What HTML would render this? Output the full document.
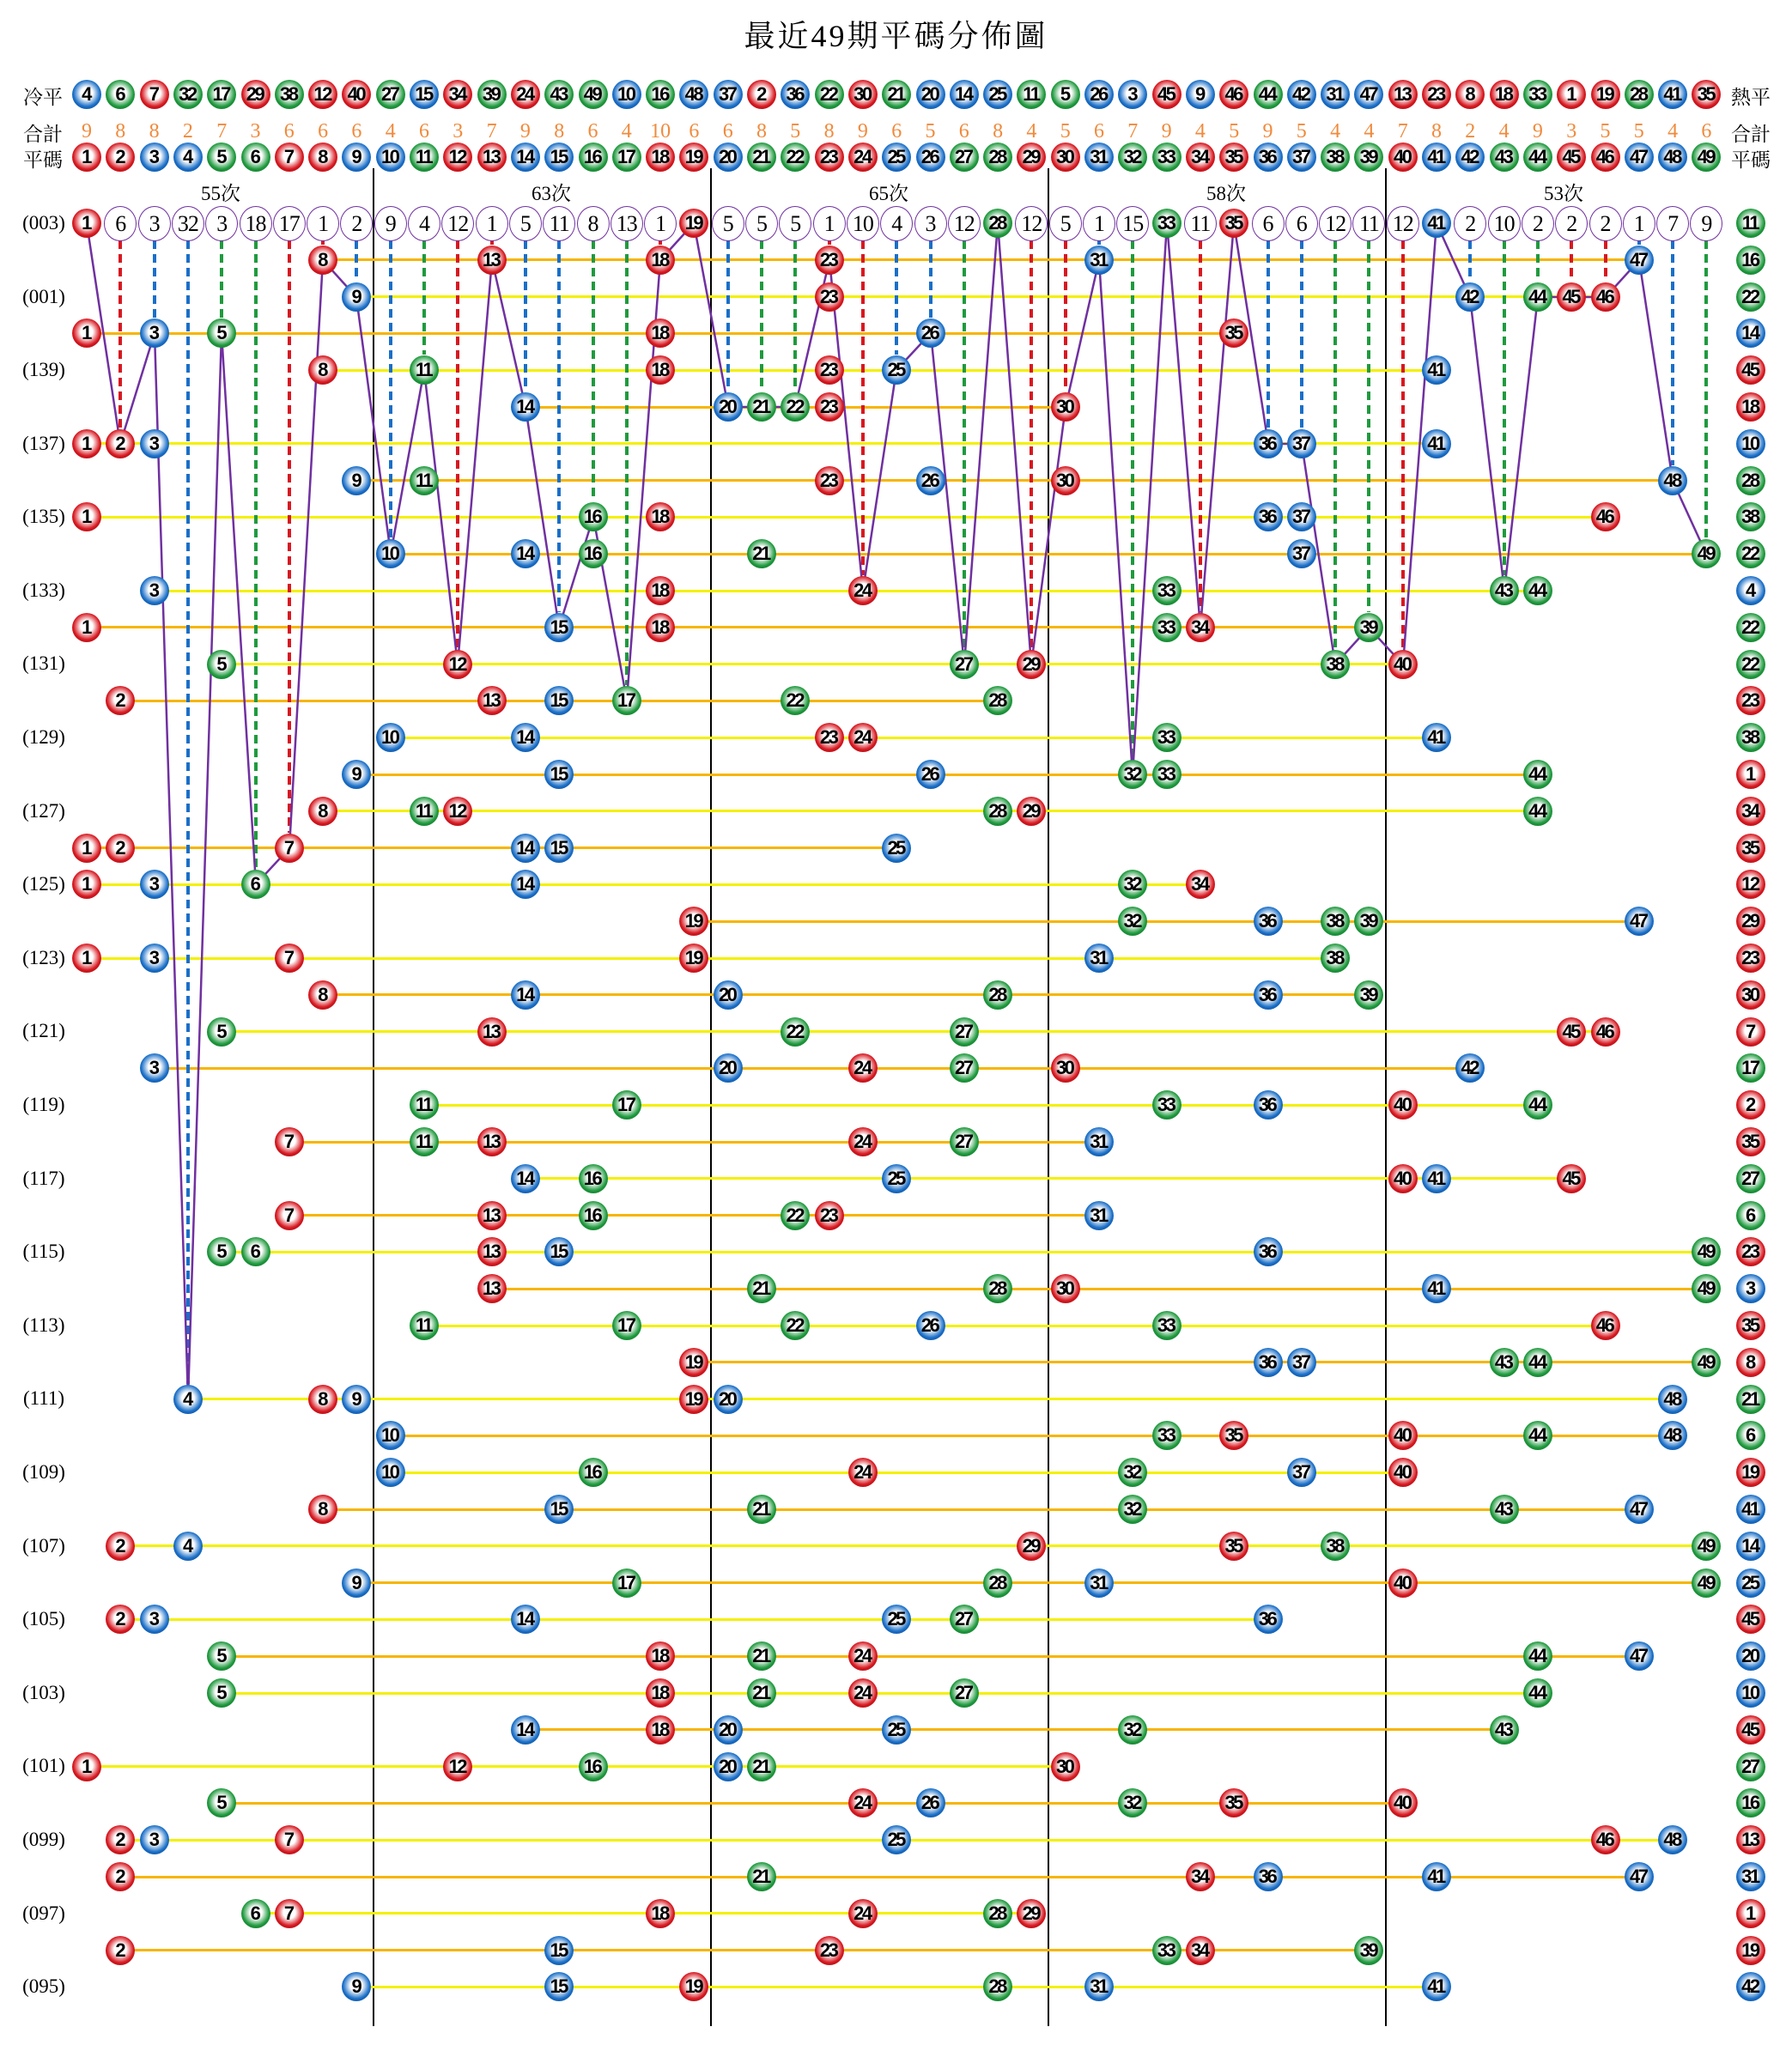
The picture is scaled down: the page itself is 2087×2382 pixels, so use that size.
<!DOCTYPE html>
<html><head><meta charset="utf-8"><style>
*{margin:0;padding:0}
html,body{width:2087px;height:2382px;background:#fff;overflow:hidden;position:relative}
.p{position:absolute;left:0;top:0;width:2087px;height:2382px}
b,u,s,em{position:absolute;left:calc(101px + (var(--c) - 1)*39.3px);top:calc(260px + var(--r)*42.8px);text-decoration:none;font-style:normal}
b{width:34px;height:34px;margin:-17px 0 0 -17px;border-radius:50%;background:radial-gradient(circle at 50% 46%,#fff 0,#fff 28%,var(--k) 62%,var(--d) 100%);font:bold 22px/34px "Liberation Sans",sans-serif;color:#000;text-align:center;letter-spacing:-2.5px;text-indent:-2px}
u{width:36px;height:39px;margin:-20px 0 0 -19px;border:1.8px solid #7030a0;border-radius:50%;background:#fff;font:26px/39px "Liberation Serif",serif;text-align:center;letter-spacing:-1px;color:#000}
s{width:30px;margin-left:-15px;font:24px/30px "Liberation Serif",serif;color:#f08a3c;text-align:center;margin-top:-15px}
em{width:4px;margin-left:-2px;top:280px;height:calc(var(--g)*42.8px - 38px);background:repeating-linear-gradient(to bottom,var(--k) 0 10px,transparent 10px 16px)}
i{position:absolute;height:3px;margin-top:-1.5px;left:calc(101px + (var(--a) - 1)*39.3px);width:calc((var(--b) - var(--a))*39.3px);top:calc(260px + var(--r)*42.8px)}
.o i{background:#f7b500}.y i{background:#f4f000}
.lab{position:absolute;font:23px "Liberation Serif","Noto Serif CJK SC",serif;color:#000;width:90px;text-align:center;margin-top:-15px}
.sep{position:absolute;top:196px;height:2164px;width:2px;background:#000}
.n1{--c:1}.n2{--c:2}.n3{--c:3}.n4{--c:4}.n5{--c:5}.n6{--c:6}.n7{--c:7}.n8{--c:8}.n9{--c:9}.n10{--c:10}.n11{--c:11}.n12{--c:12}.n13{--c:13}.n14{--c:14}.n15{--c:15}.n16{--c:16}.n17{--c:17}.n18{--c:18}.n19{--c:19}.n20{--c:20}.n21{--c:21}.n22{--c:22}.n23{--c:23}.n24{--c:24}.n25{--c:25}.n26{--c:26}.n27{--c:27}.n28{--c:28}.n29{--c:29}.n30{--c:30}.n31{--c:31}.n32{--c:32}.n33{--c:33}.n34{--c:34}.n35{--c:35}.n36{--c:36}.n37{--c:37}.n38{--c:38}.n39{--c:39}.n40{--c:40}.n41{--c:41}.n42{--c:42}.n43{--c:43}.n44{--c:44}.n45{--c:45}.n46{--c:46}.n47{--c:47}.n48{--c:48}.n49{--c:49}
.n1,.n2,.n7,.n8,.n12,.n13,.n18,.n19,.n23,.n24,.n29,.n30,.n34,.n35,.n40,.n45,.n46{--k:#d81820;--d:#7a0c10}
.n3,.n4,.n9,.n10,.n14,.n15,.n20,.n25,.n26,.n31,.n36,.n37,.n41,.n42,.n47,.n48{--k:#1a6fc8;--d:#0c3670}
.n5,.n6,.n11,.n16,.n17,.n21,.n22,.n27,.n28,.n32,.n33,.n38,.n39,.n43,.n44,.n49{--k:#1f9a3e;--d:#0c561c}
</style></head><body>
<div style="position:absolute;left:0;width:2087px;top:14px;text-align:center;font:36px 'Liberation Serif','Noto Serif CJK SC',serif;letter-spacing:3px">最近49期平碼分佈圖</div>

<div class="lab" style="left:5px;top:110px">冷平</div>
<div class="lab" style="left:5px;top:153px">合計</div>
<div class="lab" style="left:5px;top:183px">平碼</div>
<div class="lab" style="left:1994px;top:110px">熱平</div>
<div class="lab" style="left:1994px;top:153px">合計</div>
<div class="lab" style="left:1994px;top:183px">平碼</div>
<div class="lab" style="left:212px;top:222px">55次</div>
<div class="lab" style="left:597px;top:222px">63次</div>
<div class="lab" style="left:990px;top:222px">65次</div>
<div class="lab" style="left:1383px;top:222px">58次</div>
<div class="lab" style="left:1776px;top:222px">53次</div>

<div class="sep" style="left:434px"></div><div class="sep" style="left:827px"></div><div class="sep" style="left:1220px"></div><div class="sep" style="left:1613px"></div>

<div class="lab" style="left:6px;top:262px">(003)</div><div class="lab" style="left:6px;top:348px">(001)</div><div class="lab" style="left:6px;top:433px">(139)</div><div class="lab" style="left:6px;top:519px">(137)</div><div class="lab" style="left:6px;top:604px">(135)</div><div class="lab" style="left:6px;top:690px">(133)</div><div class="lab" style="left:6px;top:775px">(131)</div><div class="lab" style="left:6px;top:861px">(129)</div><div class="lab" style="left:6px;top:947px">(127)</div><div class="lab" style="left:6px;top:1032px">(125)</div><div class="lab" style="left:6px;top:1118px">(123)</div><div class="lab" style="left:6px;top:1203px">(121)</div><div class="lab" style="left:6px;top:1289px">(119)</div><div class="lab" style="left:6px;top:1375px">(117)</div><div class="lab" style="left:6px;top:1460px">(115)</div><div class="lab" style="left:6px;top:1546px">(113)</div><div class="lab" style="left:6px;top:1631px">(111)</div><div class="lab" style="left:6px;top:1717px">(109)</div><div class="lab" style="left:6px;top:1803px">(107)</div><div class="lab" style="left:6px;top:1888px">(105)</div><div class="lab" style="left:6px;top:1974px">(103)</div><div class="lab" style="left:6px;top:2059px">(101)</div><div class="lab" style="left:6px;top:2145px">(099)</div><div class="lab" style="left:6px;top:2231px">(097)</div><div class="lab" style="left:6px;top:2316px">(095)</div>

<div class="o">
<i style="--r:1;--a:8;--b:47"></i><i style="--r:3;--a:1;--b:35"></i><i style="--r:5;--a:14;--b:30"></i><i style="--r:7;--a:9;--b:48"></i><i style="--r:9;--a:10;--b:49"></i><i style="--r:11;--a:1;--b:39"></i><i style="--r:13;--a:2;--b:28"></i><i style="--r:15;--a:9;--b:44"></i><i style="--r:17;--a:1;--b:25"></i><i style="--r:19;--a:19;--b:47"></i><i style="--r:21;--a:8;--b:39"></i><i style="--r:23;--a:3;--b:42"></i><i style="--r:25;--a:7;--b:31"></i><i style="--r:27;--a:7;--b:31"></i><i style="--r:29;--a:13;--b:49"></i><i style="--r:31;--a:19;--b:49"></i><i style="--r:33;--a:10;--b:48"></i><i style="--r:35;--a:8;--b:47"></i><i style="--r:37;--a:9;--b:49"></i><i style="--r:39;--a:5;--b:47"></i><i style="--r:41;--a:14;--b:43"></i><i style="--r:43;--a:5;--b:40"></i><i style="--r:45;--a:2;--b:47"></i><i style="--r:47;--a:2;--b:39"></i>
</div>
<div class="y">
<i style="--r:2;--a:9;--b:46"></i><i style="--r:4;--a:8;--b:41"></i><i style="--r:6;--a:1;--b:41"></i><i style="--r:8;--a:1;--b:46"></i><i style="--r:10;--a:3;--b:44"></i><i style="--r:12;--a:5;--b:40"></i><i style="--r:14;--a:10;--b:41"></i><i style="--r:16;--a:8;--b:44"></i><i style="--r:18;--a:1;--b:34"></i><i style="--r:20;--a:1;--b:38"></i><i style="--r:22;--a:5;--b:46"></i><i style="--r:24;--a:11;--b:44"></i><i style="--r:26;--a:14;--b:45"></i><i style="--r:28;--a:5;--b:49"></i><i style="--r:30;--a:11;--b:46"></i><i style="--r:32;--a:4;--b:48"></i><i style="--r:34;--a:10;--b:40"></i><i style="--r:36;--a:2;--b:49"></i><i style="--r:38;--a:2;--b:36"></i><i style="--r:40;--a:5;--b:44"></i><i style="--r:42;--a:1;--b:30"></i><i style="--r:44;--a:2;--b:48"></i><i style="--r:46;--a:6;--b:29"></i><i style="--r:48;--a:9;--b:41"></i>
</div>

<div>
<em class="n2" style="--g:6"></em><em class="n3" style="--g:3"></em><em class="n4" style="--g:32"></em><em class="n5" style="--g:3"></em><em class="n6" style="--g:18"></em><em class="n7" style="--g:17"></em><em class="n8" style="--g:1"></em><em class="n9" style="--g:2"></em><em class="n10" style="--g:9"></em><em class="n11" style="--g:4"></em><em class="n12" style="--g:12"></em><em class="n13" style="--g:1"></em><em class="n14" style="--g:5"></em><em class="n15" style="--g:11"></em><em class="n16" style="--g:8"></em><em class="n17" style="--g:13"></em><em class="n18" style="--g:1"></em><em class="n20" style="--g:5"></em><em class="n21" style="--g:5"></em><em class="n22" style="--g:5"></em><em class="n23" style="--g:1"></em><em class="n24" style="--g:10"></em><em class="n25" style="--g:4"></em><em class="n26" style="--g:3"></em><em class="n27" style="--g:12"></em><em class="n29" style="--g:12"></em><em class="n30" style="--g:5"></em><em class="n31" style="--g:1"></em><em class="n32" style="--g:15"></em><em class="n34" style="--g:11"></em><em class="n36" style="--g:6"></em><em class="n37" style="--g:6"></em><em class="n38" style="--g:12"></em><em class="n39" style="--g:11"></em><em class="n40" style="--g:12"></em><em class="n42" style="--g:2"></em><em class="n43" style="--g:10"></em><em class="n44" style="--g:2"></em><em class="n45" style="--g:2"></em><em class="n46" style="--g:2"></em><em class="n47" style="--g:1"></em><em class="n48" style="--g:7"></em><em class="n49" style="--g:9"></em>
</div>

<svg class="p" width="2087" height="2382"><polyline fill="none" stroke="#7030a0" stroke-width="2.5" points="101,260 140,517 180,388 219,1630 258,388 298,1030 337,988 376,303 415,346 455,645 494,431 533,774 573,303 612,474 651,731 691,602 730,816 769,303 808,260 848,474 887,474 926,474 966,303 1005,688 1044,431 1084,388 1123,774 1162,260 1201,774 1241,474 1280,303 1319,902 1359,260 1398,731 1437,260 1477,517 1516,517 1555,774 1594,731 1634,774 1673,260 1712,346 1752,688 1791,346 1830,346 1870,346 1909,303 1948,560 1987,645"/></svg>

<div style="--r:-3.505">
<b class="n4" style="--c:1">4</b><b class="n6" style="--c:2">6</b><b class="n7" style="--c:3">7</b><b class="n32" style="--c:4">32</b><b class="n17" style="--c:5">17</b><b class="n29" style="--c:6">29</b><b class="n38" style="--c:7">38</b><b class="n12" style="--c:8">12</b><b class="n40" style="--c:9">40</b><b class="n27" style="--c:10">27</b><b class="n15" style="--c:11">15</b><b class="n34" style="--c:12">34</b><b class="n39" style="--c:13">39</b><b class="n24" style="--c:14">24</b><b class="n43" style="--c:15">43</b><b class="n49" style="--c:16">49</b><b class="n10" style="--c:17">10</b><b class="n16" style="--c:18">16</b><b class="n48" style="--c:19">48</b><b class="n37" style="--c:20">37</b><b class="n2" style="--c:21">2</b><b class="n36" style="--c:22">36</b><b class="n22" style="--c:23">22</b><b class="n30" style="--c:24">30</b><b class="n21" style="--c:25">21</b><b class="n20" style="--c:26">20</b><b class="n14" style="--c:27">14</b><b class="n25" style="--c:28">25</b><b class="n11" style="--c:29">11</b><b class="n5" style="--c:30">5</b><b class="n26" style="--c:31">26</b><b class="n3" style="--c:32">3</b><b class="n45" style="--c:33">45</b><b class="n9" style="--c:34">9</b><b class="n46" style="--c:35">46</b><b class="n44" style="--c:36">44</b><b class="n42" style="--c:37">42</b><b class="n31" style="--c:38">31</b><b class="n47" style="--c:39">47</b><b class="n13" style="--c:40">13</b><b class="n23" style="--c:41">23</b><b class="n8" style="--c:42">8</b><b class="n18" style="--c:43">18</b><b class="n33" style="--c:44">33</b><b class="n1" style="--c:45">1</b><b class="n19" style="--c:46">19</b><b class="n28" style="--c:47">28</b><b class="n41" style="--c:48">41</b><b class="n35" style="--c:49">35</b>
</div>
<div style="--r:-2.5">
<s style="--c:1">9</s><s style="--c:2">8</s><s style="--c:3">8</s><s style="--c:4">2</s><s style="--c:5">7</s><s style="--c:6">3</s><s style="--c:7">6</s><s style="--c:8">6</s><s style="--c:9">6</s><s style="--c:10">4</s><s style="--c:11">6</s><s style="--c:12">3</s><s style="--c:13">7</s><s style="--c:14">9</s><s style="--c:15">8</s><s style="--c:16">6</s><s style="--c:17">4</s><s style="--c:18">10</s><s style="--c:19">6</s><s style="--c:20">6</s><s style="--c:21">8</s><s style="--c:22">5</s><s style="--c:23">8</s><s style="--c:24">9</s><s style="--c:25">6</s><s style="--c:26">5</s><s style="--c:27">6</s><s style="--c:28">8</s><s style="--c:29">4</s><s style="--c:30">5</s><s style="--c:31">6</s><s style="--c:32">7</s><s style="--c:33">9</s><s style="--c:34">4</s><s style="--c:35">5</s><s style="--c:36">9</s><s style="--c:37">5</s><s style="--c:38">4</s><s style="--c:39">4</s><s style="--c:40">7</s><s style="--c:41">8</s><s style="--c:42">2</s><s style="--c:43">4</s><s style="--c:44">9</s><s style="--c:45">3</s><s style="--c:46">5</s><s style="--c:47">5</s><s style="--c:48">4</s><s style="--c:49">6</s>
</div>
<div style="--r:-1.8">
<b class="n1">1</b><b class="n2">2</b><b class="n3">3</b><b class="n4">4</b><b class="n5">5</b><b class="n6">6</b><b class="n7">7</b><b class="n8">8</b><b class="n9">9</b><b class="n10">10</b><b class="n11">11</b><b class="n12">12</b><b class="n13">13</b><b class="n14">14</b><b class="n15">15</b><b class="n16">16</b><b class="n17">17</b><b class="n18">18</b><b class="n19">19</b><b class="n20">20</b><b class="n21">21</b><b class="n22">22</b><b class="n23">23</b><b class="n24">24</b><b class="n25">25</b><b class="n26">26</b><b class="n27">27</b><b class="n28">28</b><b class="n29">29</b><b class="n30">30</b><b class="n31">31</b><b class="n32">32</b><b class="n33">33</b><b class="n34">34</b><b class="n35">35</b><b class="n36">36</b><b class="n37">37</b><b class="n38">38</b><b class="n39">39</b><b class="n40">40</b><b class="n41">41</b><b class="n42">42</b><b class="n43">43</b><b class="n44">44</b><b class="n45">45</b><b class="n46">46</b><b class="n47">47</b><b class="n48">48</b><b class="n49">49</b>
</div>

<div style="--r:0">
<b class="n1">1</b><u style="--c:2">6</u><u style="--c:3">3</u><u style="--c:4">32</u><u style="--c:5">3</u><u style="--c:6">18</u><u style="--c:7">17</u><u style="--c:8">1</u><u style="--c:9">2</u><u style="--c:10">9</u><u style="--c:11">4</u><u style="--c:12">12</u><u style="--c:13">1</u><u style="--c:14">5</u><u style="--c:15">11</u><u style="--c:16">8</u><u style="--c:17">13</u><u style="--c:18">1</u><b class="n19">19</b><u style="--c:20">5</u><u style="--c:21">5</u><u style="--c:22">5</u><u style="--c:23">1</u><u style="--c:24">10</u><u style="--c:25">4</u><u style="--c:26">3</u><u style="--c:27">12</u><b class="n28">28</b><u style="--c:29">12</u><u style="--c:30">5</u><u style="--c:31">1</u><u style="--c:32">15</u><b class="n33">33</b><u style="--c:34">11</u><b class="n35">35</b><u style="--c:36">6</u><u style="--c:37">6</u><u style="--c:38">12</u><u style="--c:39">11</u><u style="--c:40">12</u><b class="n41">41</b><u style="--c:42">2</u><u style="--c:43">10</u><u style="--c:44">2</u><u style="--c:45">2</u><u style="--c:46">2</u><u style="--c:47">1</u><u style="--c:48">7</u><u style="--c:49">9</u><b class="n11" style="--c:50.31">11</b>
</div>
<div style="--r:1"><b class="n8">8</b><b class="n13">13</b><b class="n18">18</b><b class="n23">23</b><b class="n31">31</b><b class="n47">47</b><b class="n16" style="--c:50.31">16</b></div>
<div style="--r:2"><b class="n9">9</b><b class="n23">23</b><b class="n42">42</b><b class="n44">44</b><b class="n45">45</b><b class="n46">46</b><b class="n22" style="--c:50.31">22</b></div>
<div style="--r:3"><b class="n1">1</b><b class="n3">3</b><b class="n5">5</b><b class="n18">18</b><b class="n26">26</b><b class="n35">35</b><b class="n14" style="--c:50.31">14</b></div>
<div style="--r:4"><b class="n8">8</b><b class="n11">11</b><b class="n18">18</b><b class="n23">23</b><b class="n25">25</b><b class="n41">41</b><b class="n45" style="--c:50.31">45</b></div>
<div style="--r:5"><b class="n14">14</b><b class="n20">20</b><b class="n21">21</b><b class="n22">22</b><b class="n23">23</b><b class="n30">30</b><b class="n18" style="--c:50.31">18</b></div>
<div style="--r:6"><b class="n1">1</b><b class="n2">2</b><b class="n3">3</b><b class="n36">36</b><b class="n37">37</b><b class="n41">41</b><b class="n10" style="--c:50.31">10</b></div>
<div style="--r:7"><b class="n9">9</b><b class="n11">11</b><b class="n23">23</b><b class="n26">26</b><b class="n30">30</b><b class="n48">48</b><b class="n28" style="--c:50.31">28</b></div>
<div style="--r:8"><b class="n1">1</b><b class="n16">16</b><b class="n18">18</b><b class="n36">36</b><b class="n37">37</b><b class="n46">46</b><b class="n38" style="--c:50.31">38</b></div>
<div style="--r:9"><b class="n10">10</b><b class="n14">14</b><b class="n16">16</b><b class="n21">21</b><b class="n37">37</b><b class="n49">49</b><b class="n22" style="--c:50.31">22</b></div>
<div style="--r:10"><b class="n3">3</b><b class="n18">18</b><b class="n24">24</b><b class="n33">33</b><b class="n43">43</b><b class="n44">44</b><b class="n4" style="--c:50.31">4</b></div>
<div style="--r:11"><b class="n1">1</b><b class="n15">15</b><b class="n18">18</b><b class="n33">33</b><b class="n34">34</b><b class="n39">39</b><b class="n22" style="--c:50.31">22</b></div>
<div style="--r:12"><b class="n5">5</b><b class="n12">12</b><b class="n27">27</b><b class="n29">29</b><b class="n38">38</b><b class="n40">40</b><b class="n22" style="--c:50.31">22</b></div>
<div style="--r:13"><b class="n2">2</b><b class="n13">13</b><b class="n15">15</b><b class="n17">17</b><b class="n22">22</b><b class="n28">28</b><b class="n23" style="--c:50.31">23</b></div>
<div style="--r:14"><b class="n10">10</b><b class="n14">14</b><b class="n23">23</b><b class="n24">24</b><b class="n33">33</b><b class="n41">41</b><b class="n38" style="--c:50.31">38</b></div>
<div style="--r:15"><b class="n9">9</b><b class="n15">15</b><b class="n26">26</b><b class="n32">32</b><b class="n33">33</b><b class="n44">44</b><b class="n1" style="--c:50.31">1</b></div>
<div style="--r:16"><b class="n8">8</b><b class="n11">11</b><b class="n12">12</b><b class="n28">28</b><b class="n29">29</b><b class="n44">44</b><b class="n34" style="--c:50.31">34</b></div>
<div style="--r:17"><b class="n1">1</b><b class="n2">2</b><b class="n7">7</b><b class="n14">14</b><b class="n15">15</b><b class="n25">25</b><b class="n35" style="--c:50.31">35</b></div>
<div style="--r:18"><b class="n1">1</b><b class="n3">3</b><b class="n6">6</b><b class="n14">14</b><b class="n32">32</b><b class="n34">34</b><b class="n12" style="--c:50.31">12</b></div>
<div style="--r:19"><b class="n19">19</b><b class="n32">32</b><b class="n36">36</b><b class="n38">38</b><b class="n39">39</b><b class="n47">47</b><b class="n29" style="--c:50.31">29</b></div>
<div style="--r:20"><b class="n1">1</b><b class="n3">3</b><b class="n7">7</b><b class="n19">19</b><b class="n31">31</b><b class="n38">38</b><b class="n23" style="--c:50.31">23</b></div>
<div style="--r:21"><b class="n8">8</b><b class="n14">14</b><b class="n20">20</b><b class="n28">28</b><b class="n36">36</b><b class="n39">39</b><b class="n30" style="--c:50.31">30</b></div>
<div style="--r:22"><b class="n5">5</b><b class="n13">13</b><b class="n22">22</b><b class="n27">27</b><b class="n45">45</b><b class="n46">46</b><b class="n7" style="--c:50.31">7</b></div>
<div style="--r:23"><b class="n3">3</b><b class="n20">20</b><b class="n24">24</b><b class="n27">27</b><b class="n30">30</b><b class="n42">42</b><b class="n17" style="--c:50.31">17</b></div>
<div style="--r:24"><b class="n11">11</b><b class="n17">17</b><b class="n33">33</b><b class="n36">36</b><b class="n40">40</b><b class="n44">44</b><b class="n2" style="--c:50.31">2</b></div>
<div style="--r:25"><b class="n7">7</b><b class="n11">11</b><b class="n13">13</b><b class="n24">24</b><b class="n27">27</b><b class="n31">31</b><b class="n35" style="--c:50.31">35</b></div>
<div style="--r:26"><b class="n14">14</b><b class="n16">16</b><b class="n25">25</b><b class="n40">40</b><b class="n41">41</b><b class="n45">45</b><b class="n27" style="--c:50.31">27</b></div>
<div style="--r:27"><b class="n7">7</b><b class="n13">13</b><b class="n16">16</b><b class="n22">22</b><b class="n23">23</b><b class="n31">31</b><b class="n6" style="--c:50.31">6</b></div>
<div style="--r:28"><b class="n5">5</b><b class="n6">6</b><b class="n13">13</b><b class="n15">15</b><b class="n36">36</b><b class="n49">49</b><b class="n23" style="--c:50.31">23</b></div>
<div style="--r:29"><b class="n13">13</b><b class="n21">21</b><b class="n28">28</b><b class="n30">30</b><b class="n41">41</b><b class="n49">49</b><b class="n3" style="--c:50.31">3</b></div>
<div style="--r:30"><b class="n11">11</b><b class="n17">17</b><b class="n22">22</b><b class="n26">26</b><b class="n33">33</b><b class="n46">46</b><b class="n35" style="--c:50.31">35</b></div>
<div style="--r:31"><b class="n19">19</b><b class="n36">36</b><b class="n37">37</b><b class="n43">43</b><b class="n44">44</b><b class="n49">49</b><b class="n8" style="--c:50.31">8</b></div>
<div style="--r:32"><b class="n4">4</b><b class="n8">8</b><b class="n9">9</b><b class="n19">19</b><b class="n20">20</b><b class="n48">48</b><b class="n21" style="--c:50.31">21</b></div>
<div style="--r:33"><b class="n10">10</b><b class="n33">33</b><b class="n35">35</b><b class="n40">40</b><b class="n44">44</b><b class="n48">48</b><b class="n6" style="--c:50.31">6</b></div>
<div style="--r:34"><b class="n10">10</b><b class="n16">16</b><b class="n24">24</b><b class="n32">32</b><b class="n37">37</b><b class="n40">40</b><b class="n19" style="--c:50.31">19</b></div>
<div style="--r:35"><b class="n8">8</b><b class="n15">15</b><b class="n21">21</b><b class="n32">32</b><b class="n43">43</b><b class="n47">47</b><b class="n41" style="--c:50.31">41</b></div>
<div style="--r:36"><b class="n2">2</b><b class="n4">4</b><b class="n29">29</b><b class="n35">35</b><b class="n38">38</b><b class="n49">49</b><b class="n14" style="--c:50.31">14</b></div>
<div style="--r:37"><b class="n9">9</b><b class="n17">17</b><b class="n28">28</b><b class="n31">31</b><b class="n40">40</b><b class="n49">49</b><b class="n25" style="--c:50.31">25</b></div>
<div style="--r:38"><b class="n2">2</b><b class="n3">3</b><b class="n14">14</b><b class="n25">25</b><b class="n27">27</b><b class="n36">36</b><b class="n45" style="--c:50.31">45</b></div>
<div style="--r:39"><b class="n5">5</b><b class="n18">18</b><b class="n21">21</b><b class="n24">24</b><b class="n44">44</b><b class="n47">47</b><b class="n20" style="--c:50.31">20</b></div>
<div style="--r:40"><b class="n5">5</b><b class="n18">18</b><b class="n21">21</b><b class="n24">24</b><b class="n27">27</b><b class="n44">44</b><b class="n10" style="--c:50.31">10</b></div>
<div style="--r:41"><b class="n14">14</b><b class="n18">18</b><b class="n20">20</b><b class="n25">25</b><b class="n32">32</b><b class="n43">43</b><b class="n45" style="--c:50.31">45</b></div>
<div style="--r:42"><b class="n1">1</b><b class="n12">12</b><b class="n16">16</b><b class="n20">20</b><b class="n21">21</b><b class="n30">30</b><b class="n27" style="--c:50.31">27</b></div>
<div style="--r:43"><b class="n5">5</b><b class="n24">24</b><b class="n26">26</b><b class="n32">32</b><b class="n35">35</b><b class="n40">40</b><b class="n16" style="--c:50.31">16</b></div>
<div style="--r:44"><b class="n2">2</b><b class="n3">3</b><b class="n7">7</b><b class="n25">25</b><b class="n46">46</b><b class="n48">48</b><b class="n13" style="--c:50.31">13</b></div>
<div style="--r:45"><b class="n2">2</b><b class="n21">21</b><b class="n34">34</b><b class="n36">36</b><b class="n41">41</b><b class="n47">47</b><b class="n31" style="--c:50.31">31</b></div>
<div style="--r:46"><b class="n6">6</b><b class="n7">7</b><b class="n18">18</b><b class="n24">24</b><b class="n28">28</b><b class="n29">29</b><b class="n1" style="--c:50.31">1</b></div>
<div style="--r:47"><b class="n2">2</b><b class="n15">15</b><b class="n23">23</b><b class="n33">33</b><b class="n34">34</b><b class="n39">39</b><b class="n19" style="--c:50.31">19</b></div>
<div style="--r:48"><b class="n9">9</b><b class="n15">15</b><b class="n19">19</b><b class="n28">28</b><b class="n31">31</b><b class="n41">41</b><b class="n42" style="--c:50.31">42</b></div>
</body></html>
